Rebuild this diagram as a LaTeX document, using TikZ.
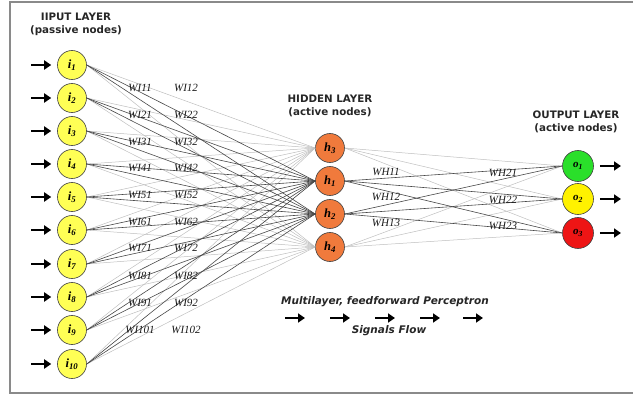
\documentclass[tikz,border=0pt]{standalone}
\usepackage{fontspec}
\setmainfont{Liberation Serif}
\setsansfont{DejaVu Sans}
\usepackage{tikz}
\usetikzlibrary{arrows.meta, positioning}
\definecolor{nodeyellow}{HTML}{FFFF55}
\definecolor{hidorange}{HTML}{F07A3C}
\definecolor{outgreen}{HTML}{2ADF2A}
\definecolor{outred}{HTML}{EE1515}
\definecolor{framegray}{HTML}{8A8A8A}

\begin{document}
\begin{tikzpicture}[x=1pt, y=-1pt,
    innode/.style={circle, draw=black!75, line width=0.6pt, fill=nodeyellow,
        minimum size=29pt, inner sep=0pt, font=\fontsize{12.5}{12}\selectfont\bfseries\itshape},
    hidnode/.style={circle, draw=black!75, line width=0.6pt, fill=hidorange,
        minimum size=29pt, inner sep=0pt, font=\fontsize{12.5}{12}\selectfont\bfseries\itshape},
    outnode/.style={circle, draw=black!75, line width=0.6pt,
        minimum size=31pt, inner sep=0pt, font=\fontsize{11}{11}\selectfont\bfseries\itshape},
    weight/.style={font=\fontsize{11}{11}\selectfont\itshape, text=black!90},
    heading/.style={font=\sffamily\bfseries\fontsize{10.3}{13}\selectfont, align=center, text=black!85},
    caption/.style={font=\sffamily\bfseries\itshape\fontsize{10.5}{12}\selectfont, text=black!85},
    faint/.style={draw=black!25, line width=0.5pt},
    strong/.style={draw=black!72, line width=0.6pt},
    sig/.style={-{Triangle[length=7pt, width=9pt]}, line width=2.7pt, draw=black}
]
\useasboundingbox (0,0) rectangle (633,396);

% Frame
\draw[framegray, line width=1.2pt] (634,2) -- (10,2) -- (10,393) -- (634,393);

% Headings
\node[heading] (inhead) at (76,24) {IIPUT LAYER\\(passive nodes)};
\node[heading] (hidhead) at (330,106) {HIDDEN LAYER\\(active nodes)};
\node[heading] (outhead) at (576,122) {OUTPUT LAYER\\(active nodes)};

% Input layer
\node[innode] (i1) at (72,65) {i\textsubscript{1}};
\node[innode] (i2) at (72,98) {i\textsubscript{2}};
\node[innode] (i3) at (72,131) {i\textsubscript{3}};
\node[innode] (i4) at (72,164) {i\textsubscript{4}};
\node[innode] (i5) at (72,197) {i\textsubscript{5}};
\node[innode] (i6) at (72,230) {i\textsubscript{6}};
\node[innode] (i7) at (72,264) {i\textsubscript{7}};
\node[innode] (i8) at (72,297) {i\textsubscript{8}};
\node[innode] (i9) at (72,330) {i\textsubscript{9}};
\node[innode] (i10) at (72,364) {i\textsubscript{10}};

% Hidden layer
\node[hidnode] (h3) at (330,148) {h\textsubscript{3}};
\node[hidnode] (h1) at (330,181) {h\textsubscript{1}};
\node[hidnode] (h2) at (330,214) {h\textsubscript{2}};
\node[hidnode] (h4) at (330,247) {h\textsubscript{4}};

% Output layer
\node[outnode, fill=outgreen] (o1) at (578,166) {o\textsubscript{1}};
\node[outnode, fill=yellow] (o2) at (578,199) {o\textsubscript{2}};
\node[outnode, fill=outred] (o3) at (578,233) {o\textsubscript{3}};

% Links: h3 and h4 faint, h1 and h2 strong
\foreach \k in {1,...,10} {
    \draw[faint] (i\k.east) -- (h3.west);
    \draw[faint] (i\k.east) -- (h4.west);
}
\foreach \h in {h3,h4} {
    \draw[faint] (\h.east) -- (o1.west);
    \draw[faint] (\h.east) -- (o2.west);
    \draw[faint] (\h.east) -- (o3.west);
}
\foreach \k in {1,...,10} {
    \draw[strong] (i\k.east) -- (h1.west);
    \draw[strong] (i\k.east) -- (h2.west);
}
\foreach \h in {h1,h2} {
    \draw[strong] (\h.east) -- (o1.west);
    \draw[strong] (\h.east) -- (o2.west);
    \draw[strong] (\h.east) -- (o3.west);
}

% Weight labels (input side)
\foreach \k/\y in {1/88, 2/115, 3/142, 4/168, 5/195, 6/222, 7/248, 8/276, 9/303, 10/330} {
    \node[weight] (wi\k a) at (140,\y) {WI\k1};
    \node[weight] (wi\k b) at (186,\y) {WI\k2};
}

% Weight labels (output side)
\node[weight] (wh11) at (386,172) {WH11};
\node[weight] (wh12) at (386,197) {WH12};
\node[weight] (wh13) at (386,223) {WH13};
\node[weight] (wh21) at (503,173) {WH21};
\node[weight] (wh22) at (503,200) {WH22};
\node[weight] (wh23) at (503,226) {WH23};

% Input signals
\foreach \k/\y in {1/65, 2/98, 3/131, 4/164, 5/197, 6/230, 7/264, 8/297, 9/330, 10/364} {
    \coordinate (in\k) at (31,\y);
    \draw[sig, shorten >=6pt] (in\k) -- (i\k.west);
}

% Output signals
\foreach \k/\y in {1/166, 2/199, 3/233} {
    \coordinate (out\k) at (621,\y);
    \draw[sig, shorten <=6pt] (o\k.east) -- (out\k);
}

% Caption and flow arrows
\node[caption] (cap) at (385,302) {Multilayer, feedforward Perceptron};
\node[caption] (flow) at (389,331) {Signals Flow};
\foreach \n/\x in {1/285, 2/330, 3/375, 4/420, 5/463} {
    \coordinate (f\n a) at (\x,318);
    \coordinate (f\n b) at (\x+20,318);
    \draw[sig, line width=2.4pt] (f\n a) -- (f\n b);
}

\end{tikzpicture}
\end{document}
